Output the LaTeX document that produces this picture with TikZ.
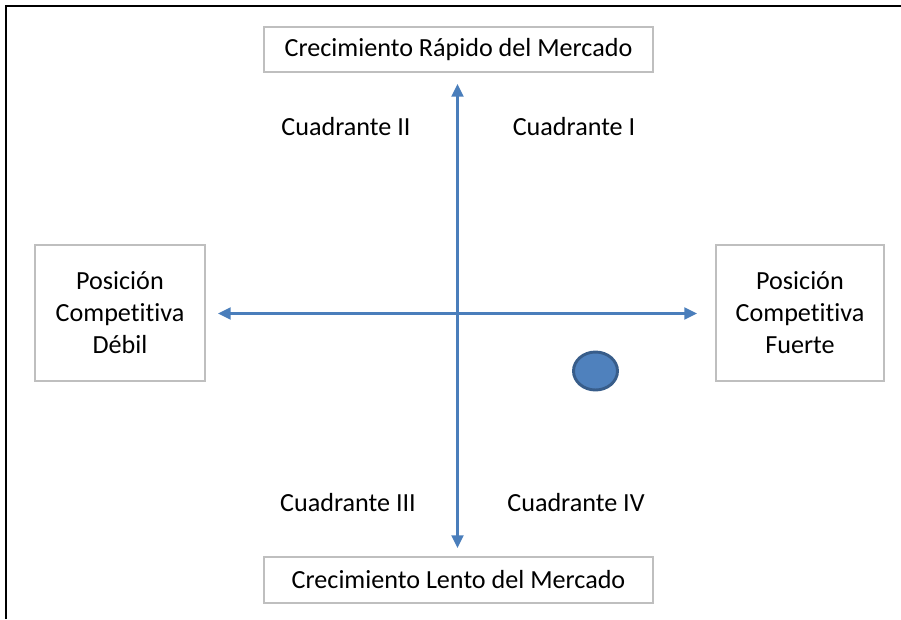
\documentclass[tikz,border=0pt]{standalone}
\usepackage{fontspec}
\setmainfont[Ligatures=NoCommon]{Carlito}
\usepackage{xcolor}
\usetikzlibrary{arrows.meta}
\definecolor{axisblue}{HTML}{4A7EBB}
\definecolor{dotfill}{HTML}{4F81BD}
\definecolor{dotline}{HTML}{385D8A}
\definecolor{boxgray}{HTML}{BFBFBF}

\begin{document}
\begin{tikzpicture}[x=0.75pt, y=-0.75pt,
  every node/.style={font=\fontsize{19.6}{24}\selectfont},
  caja/.style={draw=boxgray, line width=1.2pt, fill=white, align=center, inner sep=0pt},
  eje/.style={draw=axisblue, line width=1.6pt, {Triangle[length=9.5pt,width=9pt]}-{Triangle[length=9.5pt,width=9pt]}}]
  \useasboundingbox (0,0) rectangle (901,619);
  \draw[line width=1pt] (6,619) -- (6,6) -- (901,6);
  \node[caja, minimum width=389*0.75pt, minimum height=45*0.75pt] (Rapido) at (458.5, 49.5) {Crecimiento Rápido del Mercado};
  \node[caja, minimum width=389*0.75pt, minimum height=46*0.75pt] (Lento) at (458.5, 580) {Crecimiento Lento del Mercado};
  \node[caja, minimum width=170*0.75pt, minimum height=136*0.75pt] (Debil) at (120, 313) {Posición\\Competitiva\\Débil};
  \node[caja, minimum width=168*0.75pt, minimum height=136*0.75pt] (Fuerte) at (800, 313) {Posición\\Competitiva\\Fuerte};
  \coordinate (Oeste) at (218, 313.5);
  \coordinate (Este) at (697, 313.5);
  \coordinate (Norte) at (457.5, 84);
  \coordinate (Sur) at (457.5, 548);
  \draw[eje] (Oeste) -- (Este);
  \draw[eje] (Norte) -- (Sur);
  \node (QI) at (574, 127) {Cuadrante I};
  \node (QII) at (346, 127) {Cuadrante II};
  \node (QIII) at (348, 503) {Cuadrante III};
  \node (QIV) at (576, 503) {Cuadrante IV};
  \draw[draw=dotline, fill=dotfill, line width=2.2pt] (595.5, 371) ellipse [x radius=22, y radius=19];
\end{tikzpicture}
\end{document}
